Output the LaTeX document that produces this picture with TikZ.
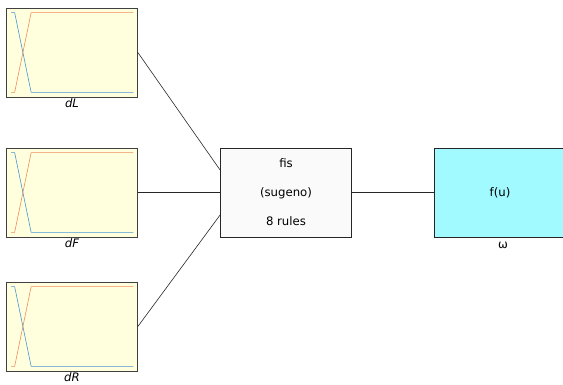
\documentclass[tikz,border=0pt]{standalone}
\usepackage{fontspec}
\setmainfont{DejaVu Sans}
\usetikzlibrary{calc}
\definecolor{mfyellow}{RGB}{255,255,222}
\definecolor{outcyan}{RGB}{160,250,255}
\definecolor{fisgray}{RGB}{250,250,250}
\definecolor{mfblue}{RGB}{70,150,210}
\definecolor{mforange}{RGB}{240,140,90}
\tikzset{
    varbox/.style={draw=black!75, line width=0.7pt, fill=mfyellow, minimum width=131pt, minimum height=89pt, inner sep=0pt},
    fisbox/.style={draw=black!85, line width=0.7pt, fill=fisgray, minimum width=131pt, minimum height=89pt, inner sep=0pt, align=center},
    outbox/.style={draw=black!85, line width=0.7pt, fill=outcyan, minimum width=131pt, minimum height=89pt, inner sep=0pt},
    link/.style={draw=black!85, line width=0.6pt},
    mfline/.style={line width=0.6pt},
}
% two membership functions inside an input box
\newcommand{\mfcurves}[1]{
    \draw[mfblue,mfline] ($(#1.north west)+(5,5)$) -- ++(3.5,0) -- ($(#1.south west)+(25,-5)$) -- ($(#1.south east)+(-4.5,-5)$);
    \draw[mforange,mfline] ($(#1.south west)+(5,-5)$) -- ++(3.5,0) -- ($(#1.north west)+(25,5)$) -- ($(#1.north east)+(-4.5,5)$);
}
\begin{document}
\begin{tikzpicture}[x=1pt,y=-1pt,font=\fontsize{11.7}{14}\selectfont]
    \useasboundingbox (0,0) rectangle (563,385);
    % inputs
    \node[varbox,label={[inner sep=1.5pt]below:\textit{dL}}] (dL) at (72,52.5) {};
    \node[varbox,label={[inner sep=1.5pt]below:\textit{dF}}] (dF) at (72,192.5) {};
    \node[varbox,label={[inner sep=1.5pt]below:\textit{dR}}] (dR) at (72,326.5) {};
    \mfcurves{dL}
    \mfcurves{dF}
    \mfcurves{dR}
    % system and output
    \node[fisbox] (fis) at (286,192.5) {fis\\[15pt](sugeno)\\[15pt]8 rules};
    \node[outbox,label={[inner sep=5pt,xshift=3pt]below:ω}] (out) at (500,192.5) {f(u)};
    \coordinate (inL) at ($(fis.north west)!0.25!(fis.south west)$);
    \coordinate (inR) at ($(fis.north west)!0.75!(fis.south west)$);
    \draw[link] (dL.east) -- (inL);
    \draw[link] (dF.east) -- (fis.west);
    \draw[link] (dR.east) -- (inR);
    \draw[link] (fis.east) -- (out.west);
\end{tikzpicture}
\end{document}
